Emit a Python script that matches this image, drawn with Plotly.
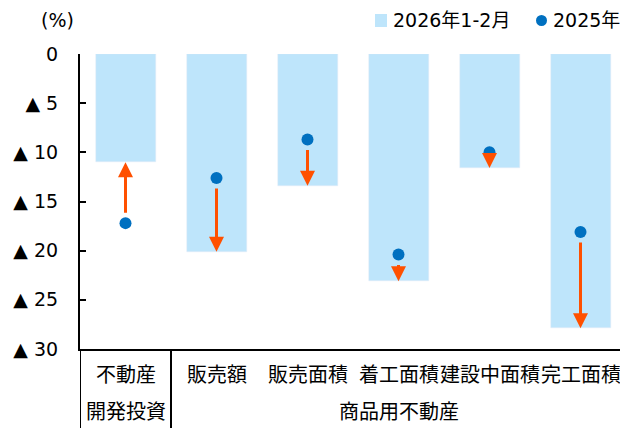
import plotly.graph_objects as go

categories = ["不動産", "販売額", "販売面積", "着工面積", "建設中面積", "完工面積"]
groups = ["開発投資", "商品用不動産"]
series_2026 = [-11.0, -20.1, -13.4, -23.1, -11.6, -27.9]
series_2025 = [-17.2, -12.6, -8.7, -20.4, -10.0, -18.1]
tick_vals = [0, -5, -10, -15, -20, -25, -30]
tick_text = ["0", "▲ 5", "▲ 10", "▲ 15", "▲ 20", "▲ 25", "▲ 30"]
legend_names = ["2026年1-2月", "2025年"]

BAR_C = "#BEE5FB"
DOT_C = "#0070C0"
ARR_C = "#FF5000"
FONT = "DejaVu Sans, Noto Sans CJK JP, sans-serif"
FS = 19
FS_CAT = 20

W, H = 620, 428
ML, MR, MT, MB = 80, 0, 54, 79
PW, PH = W - ML - MR, H - MT - MB

def px_x(p):
    return (p - ML) / PW

def px_y(p):
    return 1 - (p - MT) / PH

xs = list(range(len(categories)))
fig = go.Figure()
fig.add_trace(go.Bar(x=xs, y=series_2026, marker_color=BAR_C, width=60 / 91,
                     showlegend=False, name=legend_names[0]))
fig.add_trace(go.Scatter(x=xs, y=series_2025, mode="markers",
                         marker=dict(color=DOT_C, size=12), cliponaxis=False,
                         showlegend=False, name=legend_names[1]))

ann = []
for i in xs:
    ann.append(dict(x=i, y=series_2026[i], ax=i, ay=series_2025[i],
                    xref="x", yref="y", axref="x", ayref="y", text="",
                    showarrow=True, arrowhead=2, arrowsize=1, arrowwidth=3,
                    arrowcolor=ARR_C, standoff=0, startstandoff=9))
# category labels row 1
for i, c in enumerate(categories):
    ann.append(dict(x=i, y=px_y(375), xref="x", yref="paper", text=c,
                    showarrow=False, xanchor="center", yanchor="middle",
                    font=dict(family=FONT, size=FS_CAT, color="#000")))
# group labels row 2
ann.append(dict(x=0, y=px_y(412), xref="x", yref="paper", text=groups[0],
                showarrow=False, xanchor="center", yanchor="middle",
                font=dict(family=FONT, size=FS_CAT, color="#000")))
ann.append(dict(x=(0.5 + 5.5) / 2, y=px_y(412), xref="x", yref="paper", text=groups[1],
                showarrow=False, xanchor="center", yanchor="middle",
                font=dict(family=FONT, size=FS_CAT, color="#000")))
# unit
ann.append(dict(x=px_x(57), y=px_y(20), xref="paper", yref="paper", text="(%)",
                showarrow=False, xanchor="center", yanchor="middle",
                font=dict(family=FONT, size=FS, color="#000")))
# legend texts
ann.append(dict(x=px_x(391), y=px_y(20), xref="paper", yref="paper", text=legend_names[0],
                showarrow=False, xanchor="left", yanchor="middle",
                font=dict(family=FONT, size=FS, color="#000")))
ann.append(dict(x=px_x(551), y=px_y(20), xref="paper", yref="paper", text=legend_names[1],
                showarrow=False, xanchor="left", yanchor="middle",
                font=dict(family=FONT, size=FS, color="#000")))

shapes = [
    dict(type="rect", xref="paper", yref="paper", x0=px_x(375), x1=px_x(387),
         y0=px_y(27), y1=px_y(14), fillcolor=BAR_C, line=dict(width=0)),
    dict(type="circle", xref="paper", yref="paper", x0=px_x(536), x1=px_x(547),
         y0=px_y(26), y1=px_y(15), fillcolor=DOT_C, line=dict(width=0)),
    dict(type="line", xref="x", yref="paper", x0=-0.5, x1=-0.5, y0=0, y1=px_y(430),
         line=dict(color="#000", width=2)),
    dict(type="line", xref="x", yref="paper", x0=0.5, x1=0.5, y0=0, y1=px_y(430),
         line=dict(color="#000", width=2)),
]

fig.update_layout(
    width=W, height=H,
    margin=dict(l=ML, r=MR, t=MT, b=MB),
    plot_bgcolor="white", paper_bgcolor="white",
    font=dict(family=FONT, size=FS, color="#000"),
    annotations=ann, shapes=shapes, bargap=0,
    xaxis=dict(range=[-0.5, -0.5 + PW / 91], showticklabels=False, ticks="",
               showgrid=False, zeroline=False, showline=True, linecolor="#000",
               linewidth=2, fixedrange=True),
    yaxis=dict(range=[-30, 0], tickvals=tick_vals, ticktext=tick_text,
               ticks="inside", ticklen=6, tickwidth=2, tickcolor="#000",
               showgrid=False, zeroline=False, showline=True, linecolor="#000",
               linewidth=2, ticklabelstandoff=16, fixedrange=True,
               tickfont=dict(family=FONT, size=FS, color="#000")),
)

fig.write_html("out.html", config={"displayModeBar": False},
               post_script="document.body.style.margin='0';document.body.style.overflow='hidden';")
